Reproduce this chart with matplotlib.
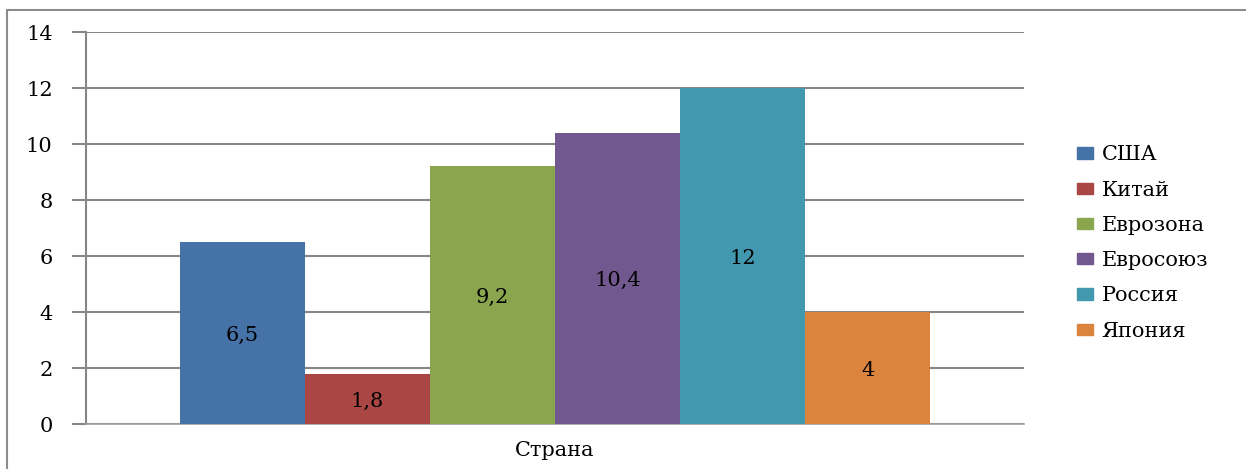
import matplotlib
matplotlib.use("Agg")
import matplotlib.pyplot as plt
from matplotlib.patches import Rectangle, Patch

countries = ["США", "Китай", "Еврозона", "Евросоюз", "Россия", "Япония"]
values = [6.5, 1.8, 9.2, 10.4, 12, 4]
value_labels = ["6,5", "1,8", "9,2", "10,4", "12", "4"]
colors = ["#4572A7", "#AA4643", "#89A54E", "#71588F", "#4198AF", "#DB843D"]
category = "Страна"
yticks = [0, 2, 4, 6, 8, 10, 12, 14]

plt.rcParams['font.family'] = ['DejaVu Serif']
FS = 15

fig = plt.figure(figsize=(12.46, 4.69), dpi=100)
ax = fig.add_axes([86/1246, 1-424/469, (1024-86)/1246, (424-32)/469])

n = len(values)
w = 0.8 / n
for i, (v, c, lab) in enumerate(zip(values, colors, value_labels)):
    x = -0.4 + w * (i + 0.5)
    ax.bar(x, v, width=w, color=c, zorder=3, label=countries[i])
    ax.text(x, v / 2 - 0.08, lab, ha='center', va='center', fontsize=FS, color='black', zorder=4)

ax.set_xlim(-0.5, 0.5)
ax.set_ylim(0, 14)
ax.set_yticks(yticks)
ax.set_yticklabels([str(t) for t in yticks], fontsize=FS)
ax.set_xticks([0])
ax.set_xticklabels([category], fontsize=FS)
ax.tick_params(axis='x', length=0, pad=12)
ax.tick_params(axis='y', length=10, width=1.5, color='#868686', pad=14, direction='out')
ax.yaxis.grid(True, color='#868686', linewidth=1.5, zorder=0)
ax.set_axisbelow(True)
for s in ['top', 'right']:
    ax.spines[s].set_visible(False)
ax.spines['left'].set_color('#868686')
ax.spines['left'].set_linewidth(1.5)
ax.spines['bottom'].set_color('#A0A0A0')
ax.spines['bottom'].set_linewidth(1.2)

handles = [Patch(facecolor=c, edgecolor=c) for c in colors]
fig.legend(handles, countries, loc='center left', bbox_to_anchor=(1058/1246, 1-243/469),
           frameon=False, fontsize=FS, handlelength=0.8, handleheight=0.45,
           handletextpad=0.4, labelspacing=0.78)

fig.patches.append(Rectangle((7/1246, -0.1), 1.2, 1 - 10/469 + 0.1, transform=fig.transFigure,
                             fill=False, edgecolor='#8C8C8C', linewidth=1.5))

fig.savefig("out.png", dpi=100)
